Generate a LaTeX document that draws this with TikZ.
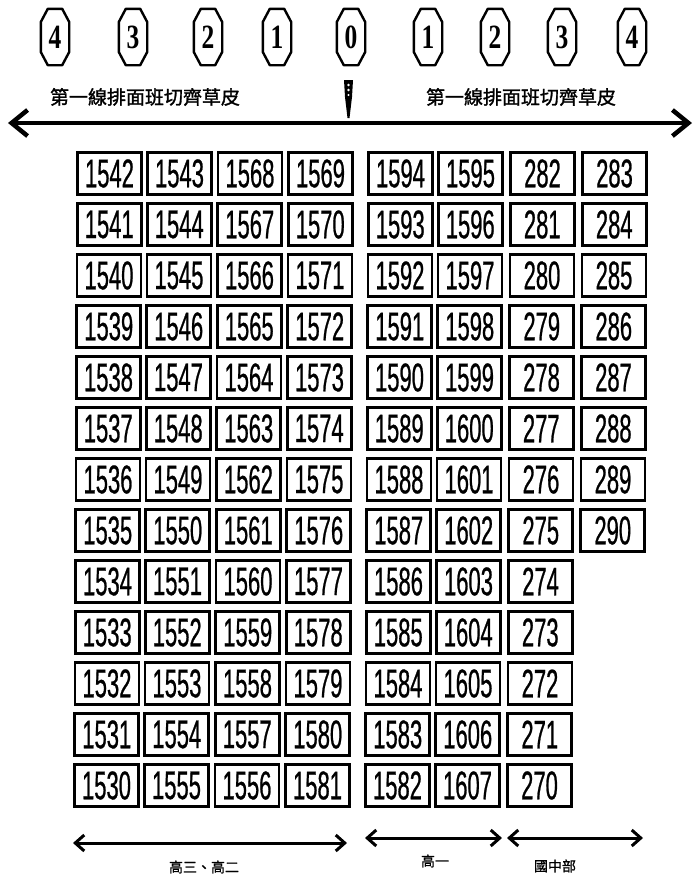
\documentclass[tikz,border=0pt]{standalone}
\usepackage{fontspec}
\usetikzlibrary{arrows.meta,calc}
\newfontfamily\cjk[FakeBold=1.5]{Noto Sans CJK TC}
\newfontfamily\cjkl[FakeBold=1]{Noto Sans CJK TC}
\newfontfamily\numfont[FakeStretch=0.55,FakeBold=0.6]{Liberation Sans}
\newfontfamily\circfont[FakeStretch=0.75]{Liberation Serif}
\begin{document}
\begin{tikzpicture}[x=1pt,y=-1pt,
  seat/.style={draw, line width=2.6pt, fill=white, minimum width=64pt, minimum height=42pt,
    inner sep=0pt, font=\numfont\fontsize{40}{40}\selectfont},
  posmark/.style={minimum width=28pt, minimum height=56pt, inner sep=0pt,
    font=\circfont\bfseries\fontsize{34}{34}\selectfont},
  octline/.style={line width=2.4pt, line join=round},
  title/.style={font=\cjk\fontsize{19}{19}\selectfont, inner sep=0pt},
  grp/.style={font=\cjkl\fontsize{14}{14}\selectfont, inner sep=0pt},
  bigarrow/.style={line width=4.5pt, {Straight Barb[length=16pt,width=26pt]}-{Straight Barb[length=16pt,width=26pt]}},
  smallarrow/.style={line width=3pt, {Straight Barb[length=9pt,width=16pt]}-{Straight Barb[length=9pt,width=16pt]}}
]
\useasboundingbox (0,0) rectangle (696,879);
\fill[white] (0,0) rectangle (696,879);

% position markers (elongated octagons)
\foreach \nm/\x/\lab in {L4/55/4, L3/133/3, L2/208/2, L1/277/1, Z/351/0, R1/428/1, R2/495/2, R3/562/3, R4/632/4} {
  \node[posmark] (p\nm) at (\x,37) {\lab};
  \draw[octline] ($(p\nm.west)+(0,-15)$) -- ($(p\nm.north west)+(7,0)$) -- ($(p\nm.north east)+(-7,0)$)
     -- ($(p\nm.east)+(0,-15)$) -- ($(p\nm.east)+(0,15)$) -- ($(p\nm.south east)+(-7,0)$)
     -- ($(p\nm.south west)+(7,0)$) -- ($(p\nm.west)+(0,15)$) -- cycle;
}

% titles
\node[title] (tL) at (145,97) {第一線排面班切齊草皮};
\node[title] (tR) at (521,97) {第一線排面班切齊草皮};

% main arrow
\coordinate (mL) at (8,123);
\coordinate (mR) at (692,123);
\draw[bigarrow] (mL) -- (mR);

% centre pin
\fill (344,80) -- (353,80) -- (352,97) -- (349.5,118) -- (347.5,118) -- (345,97) -- cycle;
\fill[white] (348.5,85) circle (1.3) (348.5,90) circle (1.3) (348.5,95) circle (1.2);

% seats
\foreach \c/\x/\start/\dir in {1/109.5/1542/-1, 2/179.5/1543/1, 3/250/1568/-1, 4/320.5/1569/1,
                               5/400.5/1594/-1, 6/470.5/1595/1, 7/542.5/282/-1} {
  \foreach \r in {1,...,13} {
    \pgfmathtruncatemacro\n{\start+\dir*(\r-1)}
    \node[seat] (b\c-\r) at ({\x-0.25*(\r-1)}, {173.5+51*(\r-1)}) {\n};
  }
}
\foreach \r in {1,...,8} {
  \pgfmathtruncatemacro\n{283+(\r-1)}
  \node[seat] (b8-\r) at ({614.5-0.25*(\r-1)}, {173.5+51*(\r-1)}) {\n};
}

% group arrows
\coordinate (g1a) at (73,843);  \coordinate (g1b) at (347,843);
\coordinate (g2a) at (365,838); \coordinate (g2b) at (502,838);
\coordinate (g3a) at (507,838); \coordinate (g3b) at (643,838);
\draw[smallarrow] (g1a) -- (g1b);
\draw[smallarrow] (g2a) -- (g2b);
\draw[smallarrow] (g3a) -- (g3b);
\node[grp] (lg1) at (204,867) {高三、高二};
\node[grp] (lg2) at (435,861) {高一};
\node[grp] (lg3) at (555,866) {國中部};
\end{tikzpicture}
\end{document}
